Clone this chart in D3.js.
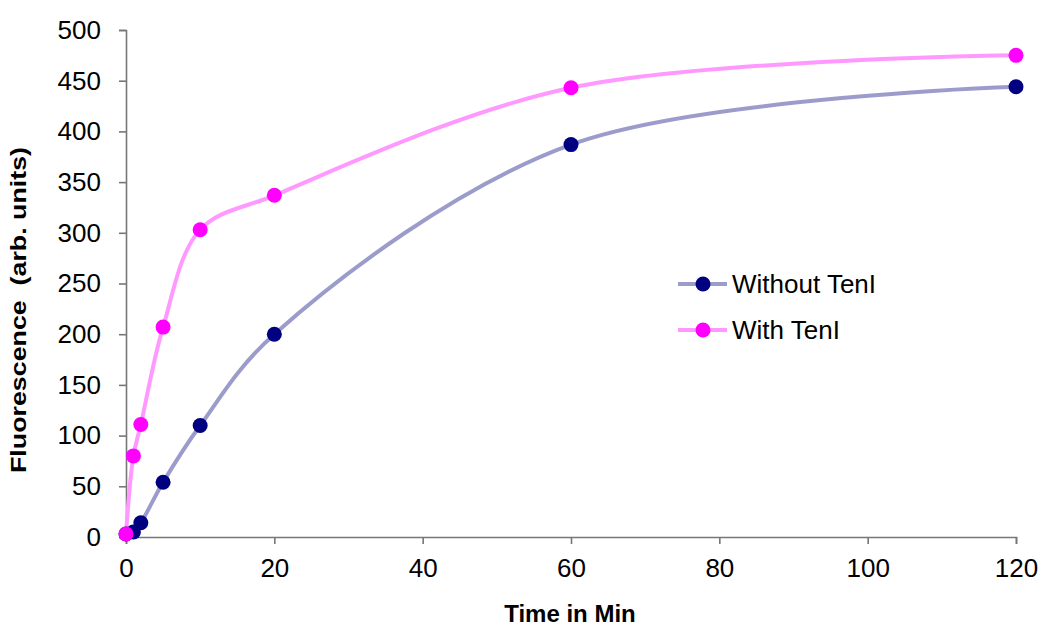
<!DOCTYPE html>
<html>
<head>
<meta charset="utf-8">
<script src="https://cdn.jsdelivr.net/npm/d3@7"></script>
<style>
  body { margin: 0; background: #fff; }
  text { font-family: Arial, "Liberation Sans", sans-serif; }
</style>
</head>
<body>
<div id="chart"></div>
<script>
const times = [0, 1, 2, 5, 10, 20, 60, 120];
const withoutTenI = [3, 5, 14, 54, 110, 200, 387, 444];
const withTenI = [3, 80, 111, 207, 303, 337, 443, 475];
const xTicks = [0, 20, 40, 60, 80, 100, 120];
const yTicks = [0, 50, 100, 150, 200, 250, 300, 350, 400, 450, 500];
const seriesNames = ['Without TenI', 'With TenI'];

const size = { width: 1050, height: 644 };
const margin = { left: 126, right: 34, top: 30, bottom: 107 };

const x = d3.scaleLinear()
  .domain([0, 120])
  .range([margin.left, size.width - margin.right]);

const y = d3.scaleLinear()
  .domain([0, 500])
  .range([size.height - margin.bottom, margin.top]);

const svg = d3.select('#chart')
  .append('svg')
  .attr('width', size.width)
  .attr('height', size.height);

const axisColor = '#777';

const xAxis = d3.axisBottom(x)
  .tickValues(xTicks)
  .tickSize(7)
  .tickSizeOuter(7)
  .tickPadding(15);

const yAxis = d3.axisLeft(y)
  .tickValues(yTicks)
  .tickSize(7)
  .tickSizeOuter(7)
  .tickPadding(18);

const gx = svg.append('g')
  .attr('transform', 'translate(0,' + y(0) + ')')
  .call(xAxis);

const gy = svg.append('g')
  .attr('transform', 'translate(' + x(0) + ',0)')
  .call(yAxis);

[gx, gy].forEach(g => {
  g.selectAll('path, line').attr('stroke', axisColor).attr('stroke-width', 1.6);
  g.selectAll('text')
    .attr('fill', '#000')
    .style('font-size', '26px')
    .style('font-family', 'Arial, "Liberation Sans", sans-serif');
});

// axis titles
svg.append('text')
  .attr('x', 570)
  .attr('y', 622)
  .attr('text-anchor', 'middle')
  .style('font-size', '24px')
  .style('font-weight', 'bold')
  .text('Time in Min');

svg.append('text')
  .attr('transform', 'translate(26,310) rotate(-90)')
  .attr('text-anchor', 'middle')
  .attr('textLength', 326)
  .attr('lengthAdjust', 'spacingAndGlyphs')
  .style('font-size', '22px')
  .style('font-weight', 'bold')
  .style('white-space', 'pre')
  .text('Fluorescence  (arb. units)');

const series = [
  { name: seriesNames[0], values: withoutTenI, line: '#9c9ccc', marker: '#000080' },
  { name: seriesNames[1], values: withTenI, line: '#ff99ff', marker: '#ff00ff' }
];

const line = d3.line()
  .x((d, i) => x(times[i]))
  .y(d => y(d))
  .curve(d3.curveCatmullRom.alpha(0.5));

series.forEach(s => {
  svg.append('path')
    .datum(s.values)
    .attr('fill', 'none')
    .attr('stroke', s.line)
    .attr('stroke-width', 4)
    .attr('d', line);
});

series.forEach(s => {
  svg.selectAll(null)
    .data(s.values)
    .enter().append('circle')
      .attr('cx', (d, i) => x(times[i]))
      .attr('cy', d => y(d))
      .attr('r', 7.5)
      .attr('fill', s.marker);
});

// legend
const legend = svg.append('g')
  .attr('transform', 'translate(678,284)');

series.forEach((s, i) => {
  const row = legend.append('g')
    .attr('transform', 'translate(0,' + (i * 46) + ')');
  row.append('line')
    .attr('x1', 0).attr('x2', 49)
    .attr('y1', 0).attr('y2', 0)
    .attr('stroke', s.line)
    .attr('stroke-width', 4);
  row.append('circle')
    .attr('cx', 25).attr('cy', 0)
    .attr('r', 7.5)
    .attr('fill', s.marker);
  row.append('text')
    .attr('x', 54)
    .attr('y', 9)
    .style('font-size', '26px')
    .text(s.name);
});
</script>
</body>
</html>
